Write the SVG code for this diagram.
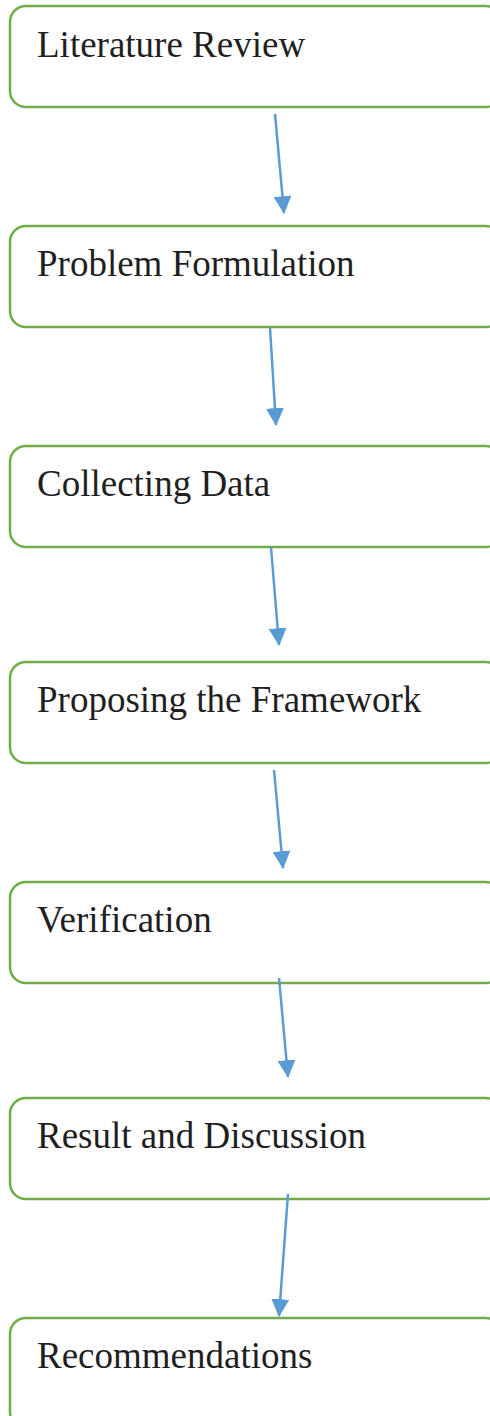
<svg xmlns="http://www.w3.org/2000/svg" width="490" height="1416" viewBox="0 0 490 1416">
  <style>
    .box { fill: #FFFFFF; stroke: #70AD47; stroke-width: 2.5; }
    .label { font-family: "Liberation Serif", "Times New Roman", serif; font-size: 37px; fill: #1F1F1F; }
    .link { stroke: #5B9BD5; stroke-width: 2.5; fill: none; marker-end: url(#head); }
  </style>
  <defs>
    <marker id="head" markerUnits="userSpaceOnUse" markerWidth="18" markerHeight="18" viewBox="0 0 16 16" refX="15" refY="8" orient="auto">
      <path d="M0,0 L16,8 L0,16 Z" fill="#5B9BD5"/>
    </marker>
  </defs>
  <rect width="490" height="1416" fill="#FFFFFF"/>

  <g id="literature-review">
    <rect class="box" x="10" y="6" width="492" height="101" rx="16"/>
    <text class="label" x="37" y="57">Literature Review</text>
  </g>
  <g id="problem-formulation">
    <rect class="box" x="10" y="226" width="492" height="101" rx="16"/>
    <text class="label" x="37" y="276">Problem Formulation</text>
  </g>
  <g id="collecting-data">
    <rect class="box" x="10" y="446" width="492" height="101" rx="16"/>
    <text class="label" x="37" y="496">Collecting Data</text>
  </g>
  <g id="proposing-framework">
    <rect class="box" x="10" y="662" width="492" height="101" rx="16"/>
    <text class="label" x="37" y="712">Proposing the Framework</text>
  </g>
  <g id="verification">
    <rect class="box" x="10" y="882" width="492" height="101" rx="16"/>
    <text class="label" x="37" y="932">Verification</text>
  </g>
  <g id="result-discussion">
    <rect class="box" x="10" y="1098" width="492" height="101" rx="16"/>
    <text class="label" x="37" y="1148">Result and Discussion</text>
  </g>
  <g id="recommendations">
    <rect class="box" x="10" y="1318" width="492" height="110" rx="16"/>
    <text class="label" x="37" y="1368">Recommendations</text>
  </g>

  <g id="connectors">
    <line class="link" x1="275" y1="114" x2="284" y2="213"/>
    <line class="link" x1="270" y1="328" x2="276" y2="425"/>
    <line class="link" x1="271" y1="547" x2="279" y2="645"/>
    <line class="link" x1="274" y1="770" x2="283" y2="868"/>
    <line class="link" x1="279" y1="978" x2="288" y2="1077"/>
    <line class="link" x1="288" y1="1194" x2="279" y2="1316"/>
  </g>
</svg>
